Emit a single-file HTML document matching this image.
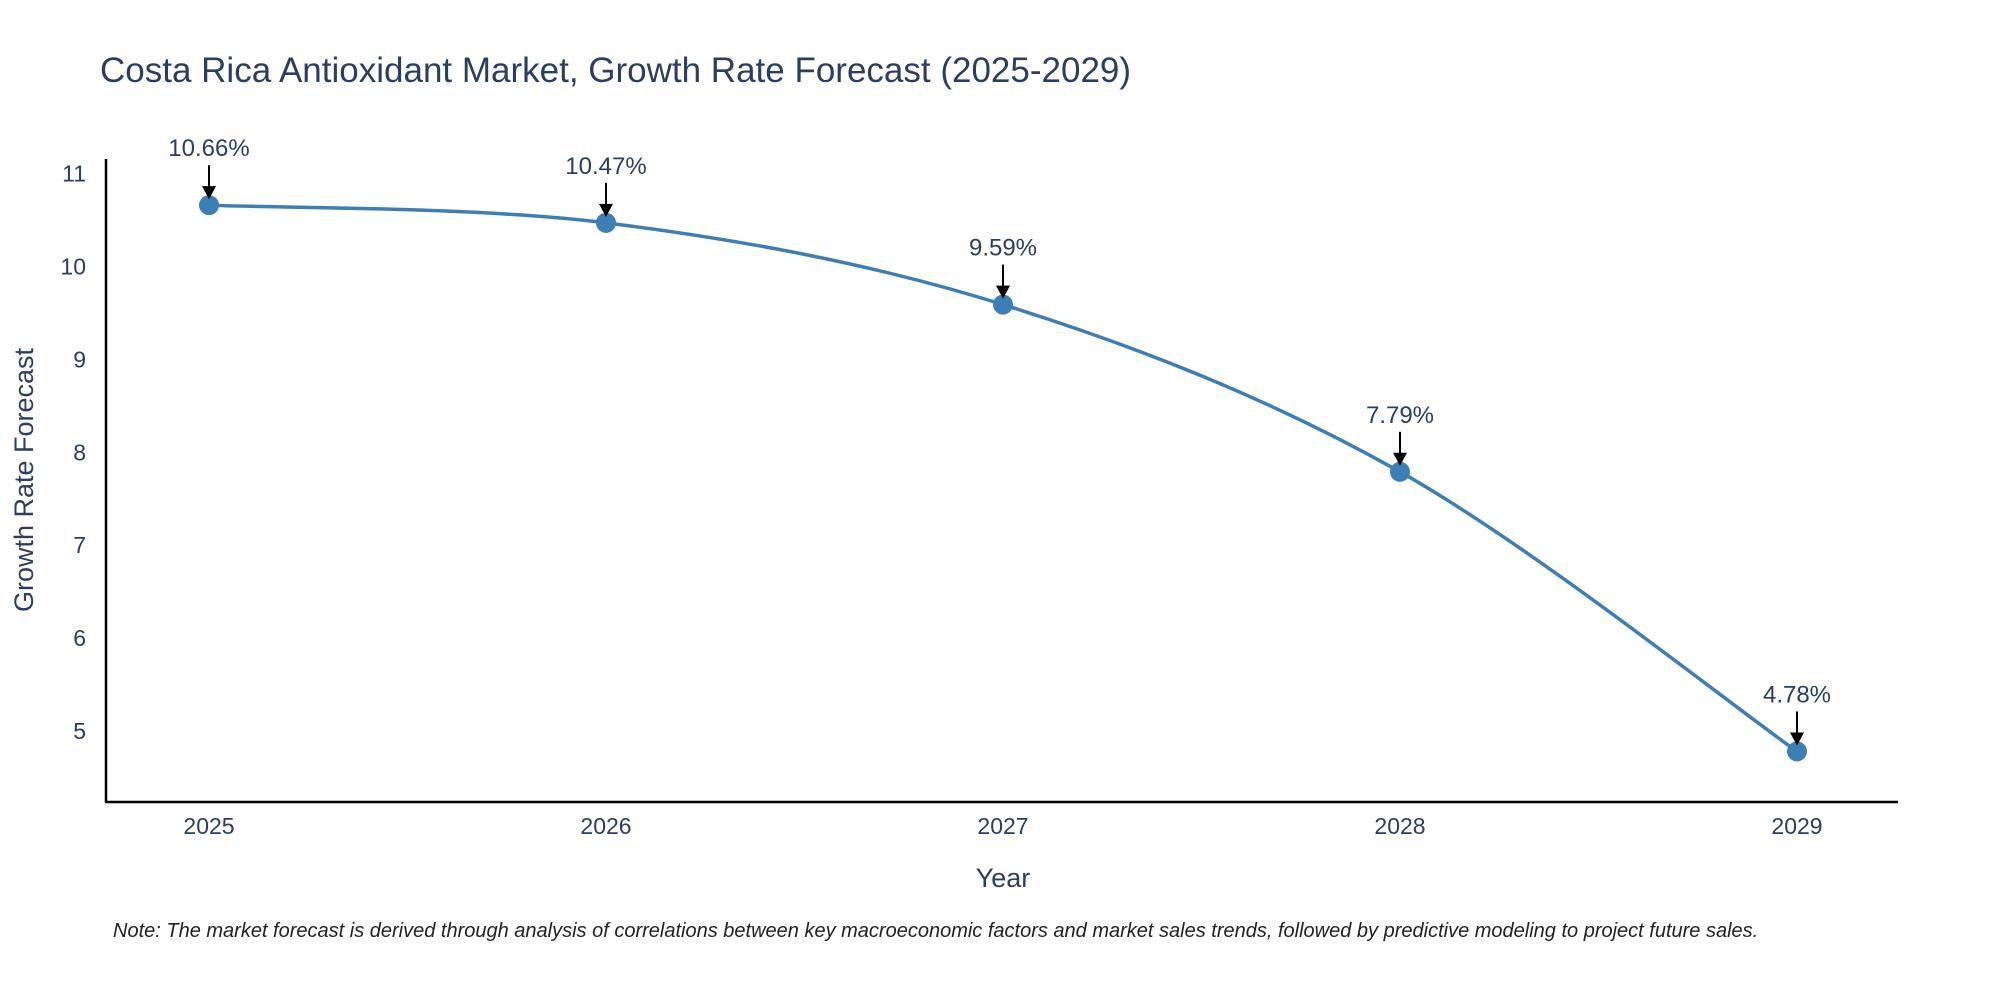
<!DOCTYPE html>
<html><head><meta charset="utf-8"><style>
body{margin:0;background:#fff;}
svg{display:block;font-family:"Liberation Sans","DejaVu Sans",sans-serif;}
</style></head><body>
<svg id="chart" width="2000" height="1000" viewBox="0 0 2000 1000">
<text x="100" y="82" font-size="35" fill="#2a3f5f">Costa Rica Antioxidant Market, Growth Rate Forecast (2025-2029)</text>
<g id="yticks"></g>
<g id="xticks"></g>
<line x1="106" y1="159" x2="106" y2="802" stroke="#000" stroke-width="2.5"/>
<line x1="105" y1="802" x2="1898" y2="802" stroke="#000" stroke-width="2.5"/>
<path id="line" fill="none" stroke="#3d7eb4" stroke-width="3.5"/>
<g id="points"></g>
<g id="annots"></g>
<text x="1003" y="887" font-size="27" fill="#2a3f5f" text-anchor="middle">Year</text>
<text transform="translate(33,480) rotate(-90)" font-size="27" fill="#2a3f5f" text-anchor="middle">Growth Rate Forecast</text>
<text x="113" y="937" font-size="20" font-style="italic" fill="#222">Note: The market forecast is derived through analysis of correlations between key macroeconomic factors and market sales trends, followed by predictive modeling to project future sales.</text>
</svg>
<script>
const years=[2025,2026,2027,2028,2029];
const values=[10.66,10.47,9.59,7.79,4.78];
const labels=["10.66%","10.47%","9.59%","7.79%","4.78%"];
const yTickVals=[5,6,7,8,9,10,11];
const NS="http://www.w3.org/2000/svg";
const xS=v=>209+(v-2025)*397;
const yS=v=>731-(v-5)*92.9;
function mk(tag,attrs,parent){const e=document.createElementNS(NS,tag);for(const k in attrs)e.setAttribute(k,attrs[k]);parent.appendChild(e);return e;}
const yt=document.getElementById('yticks');
yTickVals.forEach(v=>{const t=mk('text',{x:86,y:yS(v)+8,'font-size':23,fill:'#2a3f5f','text-anchor':'end'},yt);t.textContent=v;

});
const xt=document.getElementById('xticks');
years.forEach(v=>{const t=mk('text',{x:xS(v),y:834,'font-size':23,fill:'#2a3f5f','text-anchor':'middle'},xt);t.textContent=v;

});
const pts=years.map((y,i)=>[xS(y),yS(values[i])]);
let d=`M${pts[0][0]},${pts[0][1]}`;
for(let i=0;i<pts.length-1;i++){const p0=pts[i-1]||pts[i],p1=pts[i],p2=pts[i+1],p3=pts[i+2]||p2;const s=6;
d+=` C${p1[0]+(p2[0]-p0[0])/s},${p1[1]+(p2[1]-p0[1])/s} ${p2[0]-(p3[0]-p1[0])/s},${p2[1]-(p3[1]-p1[1])/s} ${p2[0]},${p2[1]}`;}
document.getElementById('line').setAttribute('d',d);
const pg=document.getElementById('points'),ag=document.getElementById('annots');
pts.forEach((p,i)=>{const c=mk('circle',{cx:p[0],cy:p[1],r:10,fill:'#3d7eb4'},pg);


const g=mk('g',{},ag);


mk('line',{x1:p[0],y1:p[1]-40,x2:p[0],y2:p[1]-16,stroke:'#000','stroke-width':2},g);
mk('polygon',{points:`${p[0]-7},${p[1]-19} ${p[0]+7},${p[1]-19} ${p[0]},${p[1]-6}`,fill:'#000'},g);
const t=mk('text',{x:p[0],y:p[1]-49,'font-size':24,fill:'#2a3f5f','text-anchor':'middle'},g);t.textContent=labels[i];});
</script>
</body></html>
